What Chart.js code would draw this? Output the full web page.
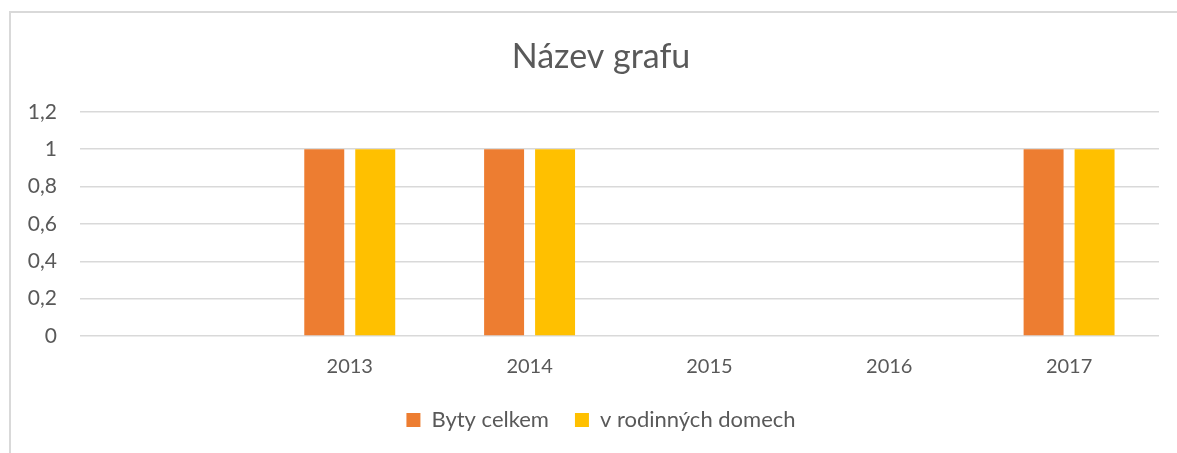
<!DOCTYPE html>
<html>
<head>
<meta charset="utf-8">
<script src="https://cdn.jsdelivr.net/npm/chart.js@4/dist/chart.umd.min.js"></script>
<style>
  html, body { margin: 0; padding: 0; background: #fff; overflow: hidden; width: 1177px; height: 453px; }
  #frame { position: absolute; left: 9px; top: 11px; width: 1200px; height: 460px;
           border-left: 2px solid #d9d9d9; border-top: 2px solid #d9d9d9; }
  #c { position: absolute; left: 0; top: 0; }
</style>
</head>
<body>
<div id="frame"></div>
<canvas id="c" width="1182" height="453"></canvas>
<script>
const categories = ["", "2013", "2014", "2015", "2016", "2017"];
const bytyCelkem = [null, 1, 1, 0, 0, 1];
const vRodinnychDomech = [null, 1, 1, 0, 0, 1];
const seriesNames = ["Byty celkem", "v rodinných domech"];
const chartTitle = "Název grafu";

const FONT = "Lato, 'Open Sans', sans-serif";
const TXT = "#595959";

new Chart(document.getElementById('c'), {
  type: 'bar',
  data: {
    labels: categories,
    datasets: [
      { label: seriesNames[0], data: bytyCelkem, backgroundColor: '#ED7D31',
        categoryPercentage: 0.567, barPercentage: 0.784 },
      { label: seriesNames[1], data: vRodinnychDomech, backgroundColor: '#FFC000',
        categoryPercentage: 0.567, barPercentage: 0.784 }
    ]
  },
  options: {
    responsive: false,
    animation: false,
    layout: { padding: { left: 20, right: 0, top: 0, bottom: 12 } },
    plugins: {
      title: {
        display: true, text: chartTitle, color: TXT,
        font: { family: FONT, size: 34, weight: 'normal' },
        padding: { top: 37, bottom: 34 }
      },
      legend: {
        position: 'bottom',
        labels: {
          color: TXT, font: { family: FONT, size: 22 },
          boxWidth: 14, boxHeight: 14, padding: 26
        }
      },
      tooltip: { enabled: false }
    },
    scales: {
      x: {
        afterFit: (s) => { s.height = 47; },
        grid: { display: false, drawTicks: false },
        border: { display: false },
        ticks: { color: TXT, font: { family: FONT, size: 20 }, padding: 19 }
      },
      y: {
        min: 0, max: 1.2,
        afterFit: (s) => { s.width = 60; },
        grid: { color: '#d9d9d9', lineWidth: 1.5, drawTicks: false },
        border: { display: false },
        ticks: {
          stepSize: 0.2, color: TXT, padding: 23,
          font: { family: FONT, size: 21 },
          callback: (v) => String(Math.round(v * 10) / 10).replace('.', ',')
        }
      },
      yRight: {
        position: 'right', min: 0, max: 1,
        afterFit: (s) => { s.width = 23; },
        grid: { display: false, drawTicks: false },
        border: { display: false },
        ticks: { display: false }
      }
    }
  }
});
</script>
</body>
</html>
